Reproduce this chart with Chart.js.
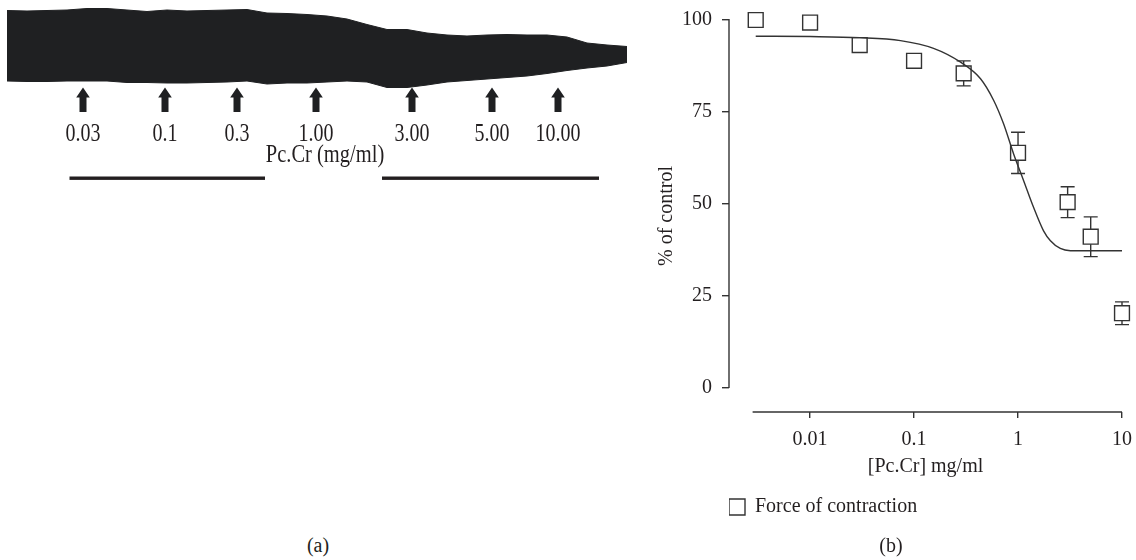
<!DOCTYPE html>
<html><head><meta charset="utf-8">
<script src="https://cdn.jsdelivr.net/npm/chart.js@4.4.1/dist/chart.umd.min.js"></script>
<style>
html,body{margin:0;padding:0;background:#fff;}
body{width:1136px;height:560px;position:relative;overflow:hidden;font-family:"Liberation Serif",serif;}
#wrapA{position:absolute;left:0;top:0;width:640px;height:200px;}
#wrapB{position:absolute;left:640px;top:0;width:496px;height:560px;}
.cap{position:absolute;font:20px "Liberation Serif",serif;color:#231f20;transform:translate(-50%,-50%);white-space:nowrap;}
</style></head><body>
<div id="wrapA"><canvas id="trace"></canvas></div>
<div id="wrapB"><canvas id="dose"></canvas></div>
<div class="cap" style="left:318px;top:545px">(a)</div>
<div class="cap" style="left:891px;top:545px">(b)</div>
<script>
// ---------- Panel (a): contraction trace (arbitrary units) ----------
const traceTime  = [0,2,4,6,8,10,12,14,16,18,20,22,24,26,28,30,32,34,36,38,40,42,44,46,48,50,52,54,56,58,60,62];
const traceUpper = [89.5,89,89.5,90,91.5,91.5,90,88.5,90,89,89.5,90,90.5,87,86.5,85.5,84,81,75.5,70.5,70.5,67,65,64,65,65.5,65,65,63,57,55,53.5];
const traceLower = [19,18.5,18.5,19,19,19,17.5,17.5,17,17,17.5,18,19,16,17,17,18,19,18,12.5,12.5,15,18,19.5,21,22.5,24,26.5,29.5,32,34,37.5];
const doseTime   = [7.6,15.8,23.0,30.9,40.5,48.5,55.1];
const doseLabels = ["0.03","0.1","0.3","1.00","3.00","5.00","10.00"];
const doseTitle  = "Pc.Cr (mg/ml)";

// ---------- Panel (b): concentration-response ----------
const concX      = [0.003,0.01,0.03,0.1,0.3,1,3,5,10];
const forceMean  = [100,99.3,93.2,88.9,85.5,63.9,50.5,41.1,20.3];
const forceErr   = [0,0,0,0,3.4,5.6,4.2,5.4,3.1];
const fitX       = [0.003,0.01,0.03,0.074,0.154,0.278,0.434,0.582,0.726,0.907,1.13,1.41,1.76,2.05,2.55,3.19,10];
const fitY       = [95.6,95.5,95.2,94.4,92.3,88.6,84.1,78.2,71.8,63.6,56.4,49.1,42.7,40.0,37.9,37.3,37.3];
const xTickValues = [0.01,0.1,1,10];
const xTickLabels = ["0.01","0.1","1","10"];
const yTickValues = [0,25,50,75,100];
const seriesName = "Force of contraction";
const xTitle = "[Pc.Cr] mg/ml";
const yTitle = "% of control";

const INK = '#231f20';
const TRACE = '#1f2022';
const SERIF = '"Liberation Serif", "Times New Roman", serif';

// ---- trace chart ----
const traceDecor = {
  id: 'traceDecor',
  afterDraw(chart) {
    const ctx = chart.ctx, xs = chart.scales.x;
    ctx.save();
    ctx.fillStyle = TRACE;
    doseTime.forEach((t, i) => {
      const x = xs.getPixelForValue(t);
      ctx.beginPath();
      ctx.moveTo(x, 87.5);
      ctx.lineTo(x + 6.8, 97.5);
      ctx.lineTo(x + 3.5, 97.5);
      ctx.lineTo(x + 3.5, 112);
      ctx.lineTo(x - 3.5, 112);
      ctx.lineTo(x - 3.5, 97.5);
      ctx.lineTo(x - 6.8, 97.5);
      ctx.closePath();
      ctx.fill();
      ctx.save();
      ctx.translate(x, 140.5);
      ctx.scale(0.8, 1);
      ctx.fillStyle = INK;
      ctx.font = '25px ' + SERIF;
      ctx.textAlign = 'center';
      ctx.textBaseline = 'alphabetic';
      ctx.fillText(doseLabels[i], 0, 0);
      ctx.restore();
    });
    ctx.save();
    ctx.translate(325, 162);
    ctx.scale(0.82, 1);
    ctx.fillStyle = INK;
    ctx.font = '25px ' + SERIF;
    ctx.textAlign = 'center';
    ctx.textBaseline = 'alphabetic';
    ctx.fillText(doseTitle, 0, 0);
    ctx.restore();
    ctx.fillStyle = INK;
    ctx.fillRect(69.5, 176.5, 195.5, 3.4);
    ctx.fillRect(382, 176.5, 217, 3.4);
    ctx.restore();
  }
};

new Chart(document.getElementById('trace'), {
  type: 'line',
  data: {
    datasets: [
      { data: traceTime.map((t, i) => ({x: t, y: traceUpper[i]})), fill: '+1',
        backgroundColor: TRACE, borderColor: TRACE, borderWidth: 1, pointRadius: 0, tension: 0 },
      { data: traceTime.map((t, i) => ({x: t, y: traceLower[i]})), fill: false,
        backgroundColor: TRACE, borderColor: TRACE, borderWidth: 1, pointRadius: 0, tension: 0 }
    ]
  },
  options: {
    responsive: true, maintainAspectRatio: false, animation: false,
    layout: { padding: 0 },
    scales: {
      x: { type: 'linear', display: false, min: -0.7, max: 63.3 },
      y: { type: 'linear', display: false, min: -100, max: 100 }
    },
    plugins: { legend: { display: false }, tooltip: { enabled: false } }
  },
  plugins: [traceDecor]
});

// ---- dose-response chart ----
const FONT = { family: SERIF, size: 20 };
const doseDecor = {
  id: 'doseDecor',
  afterDatasetsDraw(chart) {
    const ctx = chart.ctx, xs = chart.scales.x, ys = chart.scales.y;
    ctx.save();
    ctx.strokeStyle = '#333';
    ctx.lineWidth = 1.4;
    // axes (offset style)
    const ax = chart.chartArea.left;
    ctx.beginPath();
    ctx.moveTo(ax, ys.getPixelForValue(100) - 1);
    ctx.lineTo(ax, ys.getPixelForValue(0));
    ctx.stroke();
    const ay = chart.chartArea.bottom;
    ctx.beginPath();
    ctx.moveTo(xs.getPixelForValue(0.0028), ay);
    ctx.lineTo(xs.getPixelForValue(10), ay);
    ctx.stroke();
    // error bars
    const half = 7.5, cap = 7;
    concX.forEach((c, i) => {
      const e = forceErr[i];
      if (!e) return;
      const x = xs.getPixelForValue(c);
      const yc = ys.getPixelForValue(forceMean[i]);
      const yt = ys.getPixelForValue(forceMean[i] + e);
      const yb = ys.getPixelForValue(forceMean[i] - e);
      ctx.beginPath();
      if (yt < yc - half) { ctx.moveTo(x, yc - half); ctx.lineTo(x, yt); }
      if (yb > yc + half) { ctx.moveTo(x, yc + half); ctx.lineTo(x, yb); }
      ctx.moveTo(x - cap, yt); ctx.lineTo(x + cap, yt);
      ctx.moveTo(x - cap, yb); ctx.lineTo(x + cap, yb);
      ctx.stroke();
    });
    ctx.restore();
  }
};

new Chart(document.getElementById('dose'), {
  type: 'line',
  data: {
    datasets: [
      { label: seriesName, data: concX.map((c, i) => ({x: c, y: forceMean[i]})),
        showLine: false, pointStyle: 'rect', pointRadius: 10.5, pointHoverRadius: 10.5,
        pointBorderWidth: 1.4, borderWidth: 1.4, borderColor: '#333', clip: false,
        backgroundColor: 'rgba(0,0,0,0)', pointBackgroundColor: 'rgba(0,0,0,0)' },
      { label: 'fit', data: fitX.map((c, i) => ({x: c, y: fitY[i]})),
        showLine: true, pointRadius: 0, borderWidth: 1.4, borderColor: '#333', clip: false,
        backgroundColor: 'rgba(0,0,0,0)', cubicInterpolationMode: 'monotone', fill: false }
    ]
  },
  options: {
    responsive: true, maintainAspectRatio: false, animation: false,
    layout: { padding: { left: 0, right: 14, top: 20, bottom: 33 } },
    scales: {
      x: {
        type: 'logarithmic', min: 0.00166, max: 10,
        border: { display: false },
        grid: { drawOnChartArea: false, drawTicks: true, tickLength: 6, color: '#333', lineWidth: 1.4 },
        ticks: { font: FONT, color: INK, padding: 10, autoSkip: false, maxRotation: 0,
                 callback: (v) => { const k = xTickValues.indexOf(v); return k >= 0 ? xTickLabels[k] : ''; } },
        title: { display: true, text: xTitle, font: FONT, color: INK, padding: { top: 0, bottom: 18 } },
        afterBuildTicks: (s) => { s.ticks = xTickValues.map(v => ({ value: v })); },
        afterFit: (s) => { s.height = 85; s.paddingLeft = 0; s.paddingRight = 0; }
      },
      y: {
        type: 'linear', min: -6.54, max: 100,
        border: { display: false },
        grid: { drawOnChartArea: false, drawTicks: true, tickLength: 7, color: '#333', lineWidth: 1.4 },
        ticks: { font: FONT, color: INK, padding: 10 },
        title: { display: true, text: yTitle, font: FONT, color: INK, padding: { top: 15, bottom: 0 } },
        afterBuildTicks: (s) => { s.ticks = yTickValues.map(v => ({ value: v })); },
        afterFit: (s) => { s.width = 89; s.paddingTop = 0; s.paddingBottom = 0; }
      }
    },
    plugins: {
      legend: {
        position: 'bottom', align: 'start', fullSize: false,
        labels: { filter: (it) => it.datasetIndex === 0, boxWidth: 16, boxHeight: 16, padding: 0,
                  font: FONT, color: INK }
      },
      tooltip: { enabled: false }
    }
  },
  plugins: [doseDecor]
});
</script>
</body></html>
